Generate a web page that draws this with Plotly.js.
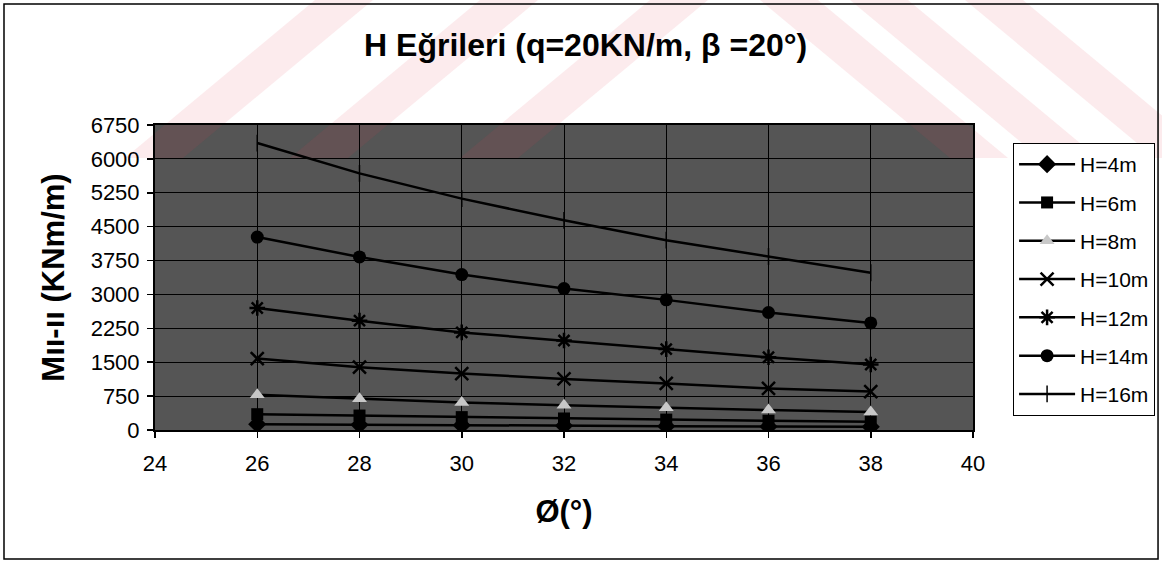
<!DOCTYPE html>
<html>
<head>
<meta charset="utf-8">
<script src="https://cdn.plot.ly/plotly-3.0.1.min.js"></script>
<style>
html,body{margin:0;padding:0;background:#fff;}
#chart{width:1162px;height:563px;}
</style>
</head>
<body>
<div id="chart"></div>
<script>
// ---- data ----
const phi = [26, 28, 30, 32, 34, 36, 38];
const seriesNames = ["H=4m", "H=6m", "H=8m", "H=10m", "H=12m", "H=14m", "H=16m"];
const H4  = [130, 115, 105, 95, 85, 75, 70];
const H6  = [350, 320, 285, 255, 230, 205, 185];
const H8  = [780, 690, 610, 545, 490, 440, 400];
const H10 = [1580, 1390, 1250, 1130, 1030, 920, 850];
const H12 = [2700, 2420, 2160, 1980, 1790, 1610, 1450];
const H14 = [4270, 3830, 3440, 3130, 2880, 2600, 2370];
const H16 = [6350, 5680, 5120, 4640, 4200, 3840, 3480];
const yTicks = [0, 750, 1500, 2250, 3000, 3750, 4500, 5250, 6000, 6750];
const xTicks = [24, 26, 28, 30, 32, 34, 36, 38, 40];

const seriesValues = [H4, H6, H8, H10, H12, H14, H16];
const markerStyles = [
  {symbol: "diamond", size: 14, color: "#000"},
  {symbol: "square", size: 12, color: "#000"},
  {symbol: "triangle-up", size: 13, color: "#c8c8c8"},
  {symbol: "x-thin-open", size: 13, color: "#000", line: {width: 2.5, color: "#000"}},
  {symbol: "asterisk-open", size: 13, color: "#000", line: {width: 2.5, color: "#000"}},
  {symbol: "circle", size: 13, color: "#000"},
  {symbol: "line-ns-open", size: 12, color: "#000", line: {width: 1.5, color: "#000"}}
];

const traces = seriesNames.map((name, i) => ({
  type: "scatter",
  mode: "lines+markers",
  name: name,
  x: phi,
  y: seriesValues[i],
  legendgroup: "g" + i,
  line: {color: "#000", width: 2.5},
  marker: markerStyles[i]
}));

const font = "Liberation Sans, Arial, sans-serif";

// --- decorative scan watermark (faint pink diagonal bands in the top strip) ---
const M = {l: 155, r: 189, t: 125, b: 133, W: 1162, H: 563};
const PW = M.W - M.l - M.r, PH = M.H - M.t - M.b;
const px2x = p => (p - M.l) / PW;
const px2y = p => (M.H - M.b - p) / PH;
const bandBottom = 158, shift = 190, bw = 58;
const slashTops = [315, 480, 650];       // "/" bands (x at page top)
const backTops = [760, 850, 965];        // "\" bands (x at page top)
function band(xTop, dir) {
  const xb = xTop + dir * shift;
  const pts = [[xTop, 0], [xTop + bw, 0], [xb + bw, bandBottom], [xb, bandBottom]];
  return "M" + pts.map(p => px2x(p[0]).toFixed(4) + "," + px2y(p[1]).toFixed(4)).join("L") + "Z";
}
const wmShapes = slashTops.map(x => band(x, -1)).concat(backTops.map(x => band(x, 1))).map(d => ({
  type: "path", xref: "paper", yref: "paper", path: d,
  fillcolor: "rgba(228,60,80,0.10)", line: {width: 0}, layer: "below"
}));

const layout = {
  width: 1162,
  height: 563,
  margin: {l: M.l, r: M.r, t: M.t, b: M.b, autoexpand: false},
  paper_bgcolor: "#ffffff",
  plot_bgcolor: "#555555",
  font: {family: font, color: "#000", size: 22},
  showlegend: true,
  title: {
    text: "<b>H Eğrileri (q=20KN/m, β =20°)</b>",
    font: {family: font, size: 32, color: "#000"},
    x: 0.504, xanchor: "center",
    y: 0.92, yanchor: "middle", yref: "container"
  },
  xaxis: {
    range: [24, 40],
    tickvals: xTicks,
    ticktext: xTicks.map(String),
    ticks: "outside", ticklen: 6, tickwidth: 1.5, tickcolor: "#000",
    ticklabelstandoff: 7,
    showgrid: true, gridcolor: "#000", gridwidth: 1,
    zeroline: false,
    showline: true, linecolor: "#000", linewidth: 2, mirror: true,
    tickfont: {family: font, size: 22, color: "#000"},
    title: {text: "<b>Ø(°)</b>", font: {family: font, size: 31, color: "#000"}, standoff: 25}
  },
  yaxis: {
    range: [0, 6750],
    tickvals: yTicks,
    ticktext: yTicks.map(String),
    ticks: "outside", ticklen: 6, tickwidth: 1.5, tickcolor: "#000",
    ticklabelstandoff: 3,
    showgrid: true, gridcolor: "#000", gridwidth: 1,
    zeroline: false,
    showline: true, linecolor: "#000", linewidth: 2, mirror: true,
    tickfont: {family: font, size: 22, color: "#000"},
    title: {text: "<b>Mıı-ıı (KNm/m)</b>", font: {family: font, size: 31, color: "#000"}, standoff: 17}
  },
  legend: {
    x: 1.049, xanchor: "left",
    y: 0.941, yanchor: "top",
    bgcolor: "#ffffff",
    bordercolor: "#000", borderwidth: 1,
    font: {family: font, size: 21, color: "#000"},
    tracegroupgap: 8,
    itemwidth: 56
  },
  shapes: wmShapes.concat([
    {type: "rect", xref: "paper", yref: "paper",
     x0: -0.1846, x1: 1.2262, y0: -0.423, y1: 1.3967,
     line: {color: "#000", width: 1.5}, fillcolor: "rgba(0,0,0,0)", layer: "above"}
  ])
};

Plotly.newPlot("chart", traces, layout, {displayModeBar: false, staticPlot: true});
</script>
</body>
</html>
